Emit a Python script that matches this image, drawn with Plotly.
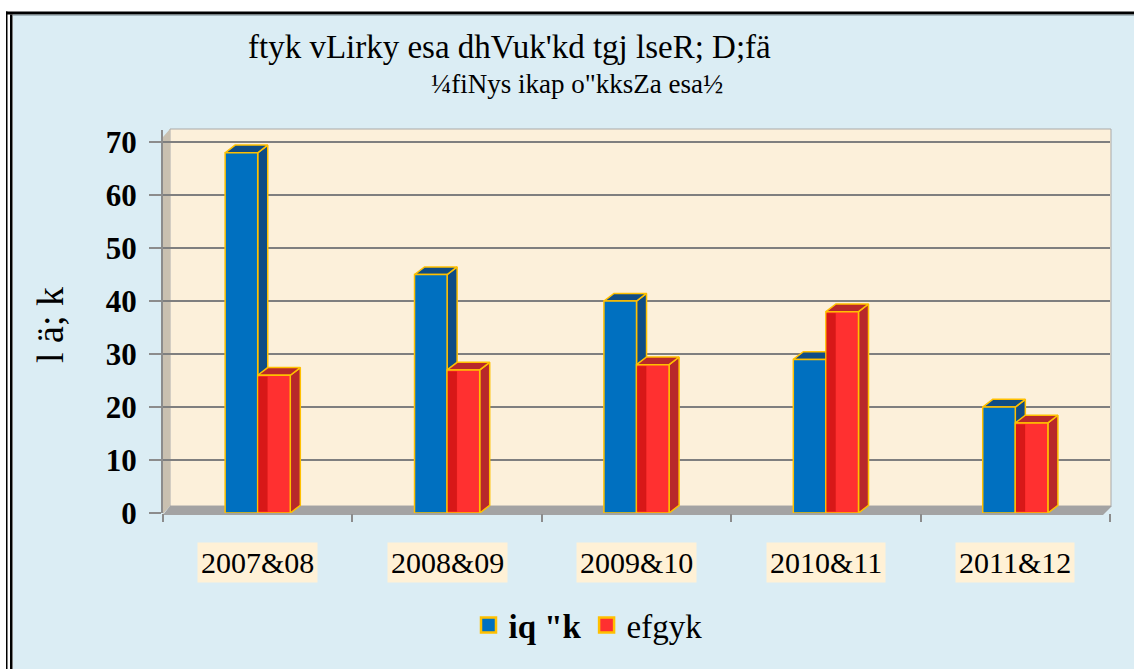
import plotly.graph_objects as go

# ---- data ----
categories = ["2007&08", "2008&09", "2009&10", "2010&11", "2011&12"]
purush = [68, 45, 40, 29, 20]      # blue series
mahila = [26, 27, 28, 38, 17]      # red series
series_names = ["<b>iq \"k</b>", "efgyk"]
title_line1 = "ftyk vLirky esa dhVuk'kd tgj lseR; D;fä"
title_line2 = "¼fiNys ikap o\"kksZa esa½"
y_title = "l ä; k"
y_ticks = [0, 10, 20, 30, 40, 50, 60, 70]

W, H = 1134, 669
L, R, T, B = 163, 24, 130, 156
PW, PH = W - L - R, H - T - B


def px(x):
    return (x - L) / PW


def py(y):
    return (H - B - y) / PH


FONT = "Liberation Serif, Times New Roman, serif"
BLUE, BLUE_D = "#0070C0", "#0F4C85"
RED, RED_D, RED_S = "#FF3030", "#B8282A", "#D81818"
GOLD = "#FFC000"

w = 0.172     # bar width in category units
dx = 0.053    # depth offset x
dy = 1.45     # depth offset y

fig = go.Figure()


def poly(xs, ys, color, lw=1.5):
    fig.add_trace(go.Scatter(
        x=xs + [xs[0]], y=ys + [ys[0]], mode="lines", fill="toself",
        fillcolor=color, line=dict(color=GOLD if lw > 0 else color, width=max(lw, 0.1)),
        showlegend=False, hoverinfo="skip"))


for i in range(len(categories)):
    for k, (vals, front, dark, off) in enumerate(
            [(purush, BLUE, BLUE_D, -w), (mahila, RED, RED_D, 0.0)]):
        v = vals[i]
        x0 = i + off
        x1 = x0 + w
        # side face
        poly([x1, x1 + dx, x1 + dx, x1], [0, dy, v + dy, v], dark)
        # top face
        poly([x0, x0 + dx, x1 + dx, x1], [v, v + dy, v + dy, v], dark)
        # front face
        poly([x0, x1, x1, x0], [0, 0, v, v], front)
        if k == 1:
            # darker shading strip on the left of the red front
            poly([x0 + 0.004, x0 + w * 0.3, x0 + w * 0.3, x0 + 0.004],
                 [0.3, 0.3, v - 0.3, v - 0.3], RED_S, lw=0)

# legend-only traces
for name, col in zip(series_names, [BLUE, RED]):
    fig.add_trace(go.Scatter(x=[None], y=[None], name=name, mode="markers",
                             marker=dict(symbol="square", size=15, color=col,
                                         line=dict(color=GOLD, width=2.5))))

shapes = [
    dict(type="rect", xref="paper", yref="paper", x0=px(13), x1=px(W + 5),
         y0=py(15), y1=py(H + 5), fillcolor="#DBEDF4", line_width=0, layer="below"),
    dict(type="rect", xref="paper", yref="paper", x0=px(6), x1=px(W + 5),
         y0=py(11.5), y1=py(14.5), fillcolor="black", line_width=0, layer="below"),
    dict(type="rect", xref="paper", yref="paper", x0=px(13), x1=px(W + 5),
         y0=py(14.5), y1=py(15.5), fillcolor="#6E8085", line_width=0, layer="below"),
    dict(type="rect", xref="paper", yref="paper", x0=px(6), x1=px(7.5),
         y0=py(11.5), y1=py(H + 5), fillcolor="black", line_width=0, layer="below"),
    dict(type="rect", xref="paper", yref="paper", x0=px(10), x1=px(12.5),
         y0=py(14.5), y1=py(H + 5), fillcolor="black", line_width=0, layer="below"),
    # back wall
    dict(type="rect", xref="paper", yref="paper", x0=px(170), x1=px(1111),
         y0=py(506), y1=py(129), fillcolor="#FCF0DA", line=dict(color="#A9A9A9", width=1), layer="below"),
    # left side wall
    dict(type="path", xref="paper", yref="paper",
         path=f"M {px(163)},{py(514)} L {px(170)},{py(506)} L {px(170)},{py(129)} L {px(163)},{py(137)} Z",
         fillcolor="#C9C0B0", line_width=0, layer="below"),
    # floor
    dict(type="path", xref="paper", yref="paper",
         path=f"M {px(163)},{py(515)} L {px(1103)},{py(515)} L {px(1112)},{py(506)} L {px(170)},{py(506)} Z",
         fillcolor="#A3A3A3", line_width=0, layer="below"),
]

annotations = [
    dict(text=title_line1, xref="paper", yref="paper", x=px(509), y=py(47),
         showarrow=False, font=dict(family=FONT, size=33, color="black"),
         xanchor="center", yanchor="middle"),
    dict(text=title_line2, xref="paper", yref="paper", x=px(577), y=py(84),
         showarrow=False, font=dict(family=FONT, size=27, color="black"),
         xanchor="center", yanchor="middle"),
    dict(text=y_title, xref="paper", yref="paper", x=px(50), y=py(325),
         showarrow=False, textangle=-90, font=dict(family=FONT, size=38, color="black"),
         xanchor="center", yanchor="middle"),
]
for i, c in enumerate(categories):
    annotations.append(dict(text=c, xref="x", yref="paper", x=i, y=py(562),
                            showarrow=False, bgcolor="#FFF1D6", borderpad=3,
                            font=dict(family=FONT, size=30, color="black"),
                            xanchor="center", yanchor="middle"))

fig.update_layout(
    width=W, height=H,
    margin=dict(l=L, r=R, t=T, b=B),
    paper_bgcolor="white",
    plot_bgcolor="rgba(0,0,0,0)",
    shapes=shapes,
    annotations=annotations,
    showlegend=True,
    legend=dict(orientation="h", x=px(588), y=py(625), xanchor="center", yanchor="middle",
                font=dict(family=FONT, size=33, color="black"), bgcolor="rgba(0,0,0,0)",
                itemsizing="trace", itemwidth=30, tracegroupgap=0),
    xaxis=dict(range=[-0.5, 4.5], tickvals=list(range(len(categories))),
               ticktext=["" for _ in categories], showgrid=False, zeroline=False,
               ticks="", showline=False,
               minor=dict(tickvals=[-0.5, 0.5, 1.5, 2.5, 3.5, 4.5], ticks="outside",
                          ticklen=8, tickcolor="#8C8C8C", tickwidth=2)),
    yaxis=dict(range=[0, 72.3], tickvals=y_ticks, ticks="outside", ticklen=12,
               tickcolor="#8C8C8C", tickwidth=2, showline=True, linecolor="#8C8C8C",
               linewidth=2, showgrid=True, gridcolor="#7F7F7F", gridwidth=2,
               zeroline=False, ticklabelstandoff=6,
               tickfont=dict(family=FONT, size=31, color="black", weight="bold")),
)

fig.write_html("out.html", config={"displayModeBar": False},
               post_script="document.body.style.margin='0';document.body.style.overflow='hidden';")
